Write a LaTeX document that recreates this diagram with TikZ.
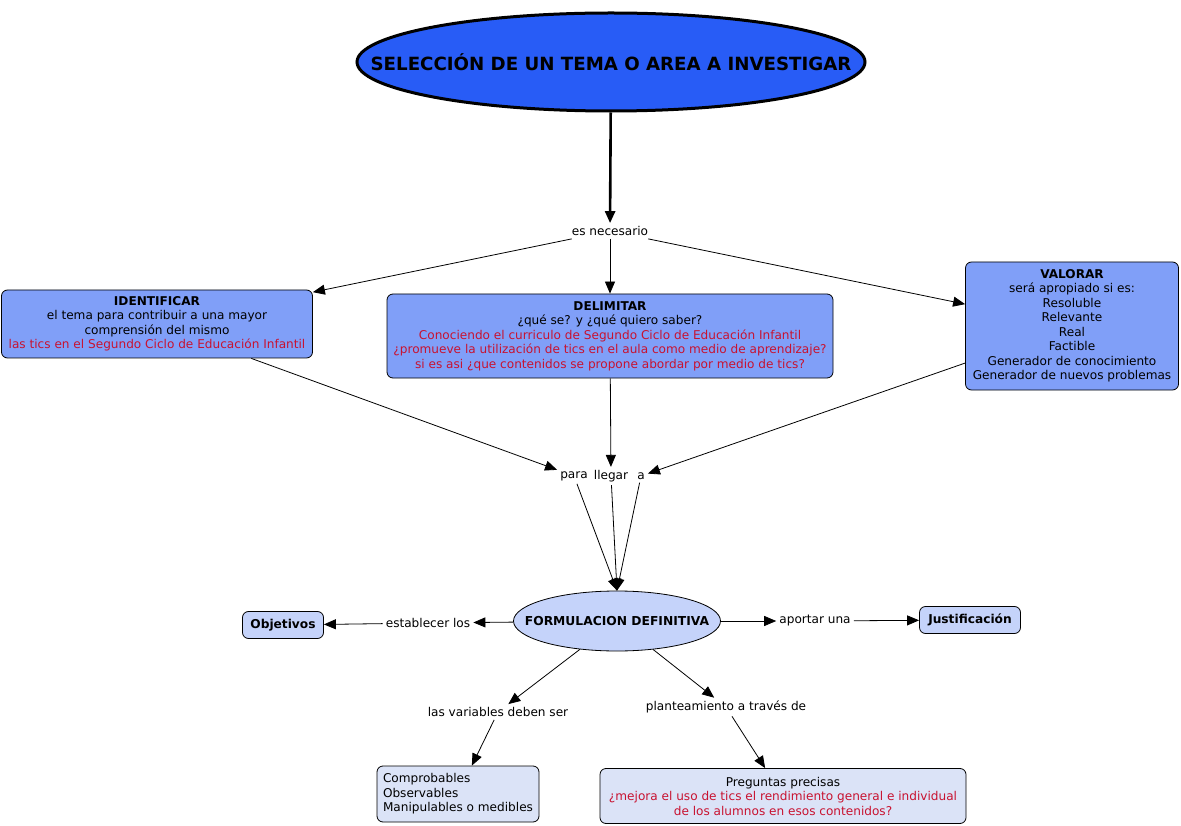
\documentclass[tikz,border=0pt]{standalone}
\usepackage{fontspec}
\setmainfont{DejaVu Sans}
\usetikzlibrary{arrows.meta,shapes.geometric}
\definecolor{temablue}{RGB}{40,92,246}
\definecolor{pasoblue}{RGB}{128,159,248}
\definecolor{formblue}{RGB}{197,211,250}
\definecolor{finblue}{RGB}{219,227,247}
\definecolor{ticred}{RGB}{200,18,48}
\tikzset{
  concepto/.style={draw=black, line width=0.8pt, rounded corners=6pt, align=center, inner sep=2pt},
  enlace/.style={inner sep=3pt},
  flecha/.style={-{Triangle[length=12pt,width=10pt]}, line width=0.8pt},
}
\newcommand{\rojo}[1]{\textcolor{ticred}{#1}}

\begin{document}
\begin{tikzpicture}[x=1pt, y=-1pt, font=\fontsize{12.1}{14.5}\selectfont]
		%%%%% START %%%%%
		\useasboundingbox (0, 0) rectangle (1181, 826);
		
		\node[ellipse, draw=black, line width=3pt, fill=temablue, minimum width=508, minimum height=98, inner xsep=-80pt, inner ysep=0pt, font=\fontsize{18.2}{20}\selectfont\bfseries] (tema) at (611, 62) {SELECCIÓN DE UN TEMA O AREA A INVESTIGAR};
		\node[enlace] (necesario) at (610, 231) {es necesario};
		
		\node[concepto, fill=pasoblue, minimum width=311, minimum height=68] (identificar) at (157, 324) {\textbf{IDENTIFICAR}\\el tema para contribuir a una mayor\\comprensión del mismo\\\rojo{las tics en el Segundo Ciclo de Educación Infantil}};
		\node[concepto, fill=pasoblue, minimum width=446, minimum height=84] (delimitar) at (610, 336) {\textbf{DELIMITAR}\\¿qué se? y ¿qué quiero saber?\\\rojo{Conociendo el curriculo de Segundo Ciclo de Educación Infantil}\\\rojo{¿promueve la utilización de tics en el aula como medio de aprendizaje?}\\\rojo{si es asi ¿que contenidos se propone abordar por medio de tics?}};
		\node[concepto, fill=pasoblue, minimum width=213, minimum height=128] (valorar) at (1072, 326) {\textbf{VALORAR}\\será apropiado si es:\\Resoluble\\Relevante\\Real\\Factible\\Generador de conocimiento\\Generador de nuevos problemas};
		
		\node[enlace] (para) at (574, 476) {para};
		\node[enlace] (llegar) at (611, 476) {llegar};
		\node[enlace] (a) at (641, 476) {a};
		
		\node[ellipse, draw=black, line width=0.8pt, fill=formblue, minimum width=207, minimum height=60, inner xsep=-40pt, inner ysep=0pt, font=\fontsize{12.3}{14}\selectfont\bfseries] (formulacion) at (617, 621) {FORMULACION DEFINITIVA};
		
		\node[enlace] (establecer) at (428, 623) {establecer los};
		\node[concepto, fill=formblue, minimum width=81, minimum height=27, font=\fontsize{12.2}{14}\selectfont\bfseries] (objetivos) at (283, 625) {Objetivos};
		\node[enlace] (aportar) at (815, 621) {aportar una};
		\node[concepto, fill=formblue, minimum width=101, minimum height=27, font=\fontsize{12.2}{14}\selectfont\bfseries] (justificacion) at (970, 620) {Justificación};
		
		\node[enlace] (variables) at (498, 712) {las variables deben ser};
		\node[enlace] (planteamiento) at (726, 707) {planteamiento a través de};
		\node[concepto, fill=finblue, align=left, minimum width=162, minimum height=56] (cualidades) at (458, 794) {Comprobables\\Observables\\Manipulables o medibles};
		\node[concepto, fill=finblue, minimum width=366, minimum height=55] (preguntas) at (783, 796) {Preguntas precisas\\\rojo{¿mejora el uso de tics el rendimiento general e individual}\\\rojo{de los alumnos en esos contenidos?}};
		
		\draw[flecha, line width=2.6pt] (tema) -- (necesario);
		\draw[flecha] (necesario) -- (identificar);
		\draw[flecha] (necesario) -- (delimitar);
		\draw[flecha] (necesario) -- (valorar);
		
		\draw[flecha] (identificar) -- (para);
		\draw[flecha] (delimitar) -- (llegar);
		\draw[flecha] (valorar) -- (a);
		\draw[flecha] (para) -- (formulacion.north);
		\draw[flecha] (llegar) -- (formulacion.north);
		\draw[flecha] (a) -- (formulacion.north);
		
		\draw[flecha] (formulacion) -- (establecer);
		\draw[flecha] (establecer) -- (objetivos);
		\draw[flecha] (formulacion) -- (aportar);
		\draw[flecha] (aportar) -- (justificacion);
		\draw[flecha] (formulacion) -- (variables);
		\draw[flecha] (variables) -- (cualidades);
		\draw[flecha] (formulacion) -- (planteamiento);
		\draw[flecha] (planteamiento) -- (preguntas);
		%%%%% END %%%%%
	\end{tikzpicture}
\end{document}
